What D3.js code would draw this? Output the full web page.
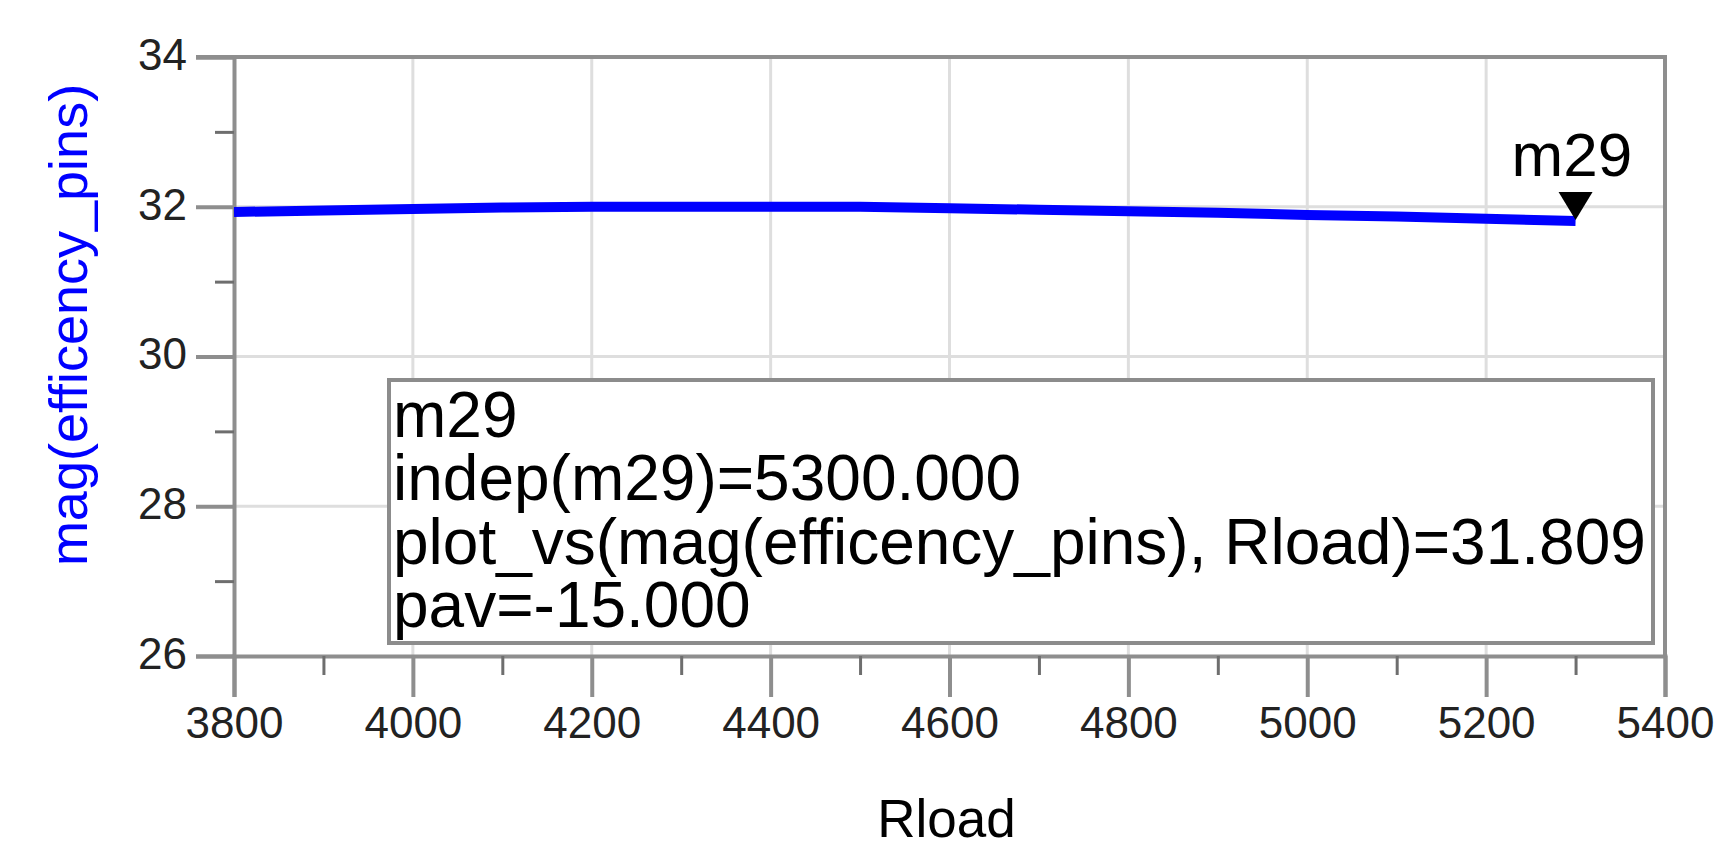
<!DOCTYPE html>
<html>
<head>
<meta charset="utf-8">
<script src="https://cdn.jsdelivr.net/npm/d3@7"></script>
<style>
  body { margin: 0; background: #fff; }
  svg { display: block; font-family: "Liberation Sans", Arial, sans-serif; }
</style>
</head>
<body>
<div id="chart"></div>
<script>
// Rload sweep (ohm) and mag(efficency_pins)
var rload = [3800, 3900, 4000, 4100, 4200, 4300, 4400, 4500, 4600, 4700, 4800, 4900, 5000, 5100, 5200, 5300];
var effPins = [31.93, 31.95, 31.97, 31.99, 32.00, 32.00, 32.00, 32.00, 31.98, 31.96, 31.94, 31.92, 31.89, 31.87, 31.84, 31.809];

var xTicks = [3800, 4000, 4200, 4400, 4600, 4800, 5000, 5200, 5400];
var xMinor = [3900, 4100, 4300, 4500, 4700, 4900, 5100, 5300];
var yTicks = [26, 28, 30, 32, 34];
var yMinor = [27, 29, 31, 33];

// marker m29
var markerName = "m29";
var markerX = 5300;
var markerY = 31.809;
var markerLines = ["m29", "indep(m29)=5300.000", "plot_vs(mag(efficency_pins), Rload)=31.809", "pav=-15.000"];

var width = 1730;
var height = 868;

var svg = d3.select("#chart")
  .append("svg")
  .attr("width", width)
  .attr("height", height);

var x = d3.scaleLinear().domain([3800, 5400]).range([234, 1665]);
var y = d3.scaleLinear().domain([26, 34]).range([656, 57]);

var axisGray = "#8e8e8e";

// grid
svg.append("g")
  .selectAll("line.vgrid")
  .data(xTicks.slice(1, -1))
  .enter().append("line")
    .attr("x1", function(d) { return x(d); })
    .attr("x2", function(d) { return x(d); })
    .attr("y1", y(34))
    .attr("y2", y(26))
    .attr("stroke", "#dedede")
    .attr("stroke-width", 3);

svg.append("g")
  .selectAll("line.hgrid")
  .data(yTicks.slice(1, -1))
  .enter().append("line")
    .attr("x1", x(3800))
    .attr("x2", x(5400))
    .attr("y1", function(d) { return y(d); })
    .attr("y2", function(d) { return y(d); })
    .attr("stroke", "#dedede")
    .attr("stroke-width", 3);

// axes
var xAxis = svg.append("g")
  .attr("transform", "translate(0," + y(26) + ")")
  .call(d3.axisBottom(x).tickValues(xTicks).tickSize(41).tickPadding(10).tickFormat(d3.format("d")));

var xAxisMinor = svg.append("g")
  .attr("transform", "translate(0," + y(26) + ")")
  .call(d3.axisBottom(x).tickValues(xMinor).tickSize(19).tickFormat(""));

var yAxis = svg.append("g")
  .attr("transform", "translate(" + x(3800) + ",0)")
  .call(d3.axisLeft(y).tickValues(yTicks).tickSize(38).tickPadding(9).tickFormat(d3.format("d")));

var yAxisMinor = svg.append("g")
  .attr("transform", "translate(" + x(3800) + ",0)")
  .call(d3.axisLeft(y).tickValues(yMinor).tickSize(19).tickFormat(""));

[xAxis, yAxis].forEach(function(a) {
  a.select(".domain").attr("stroke", axisGray).attr("stroke-width", 4);
  a.selectAll(".tick line").attr("stroke", axisGray).attr("stroke-width", 4);
  a.selectAll(".tick text")
    .attr("fill", "#222")
    .style("font-size", "44px")
    .style("font-family", "'Liberation Sans', Arial, sans-serif");
});
[xAxisMinor, yAxisMinor].forEach(function(a) {
  a.select(".domain").remove();
  a.selectAll(".tick line").attr("stroke", "#6e6e6e").attr("stroke-width", 3);
});
yAxis.selectAll(".tick text").attr("dy", "0.28em");

// top and right frame
svg.append("line")
  .attr("x1", x(3800) - 38).attr("x2", x(5400) + 2)
  .attr("y1", y(34)).attr("y2", y(34))
  .attr("stroke", axisGray).attr("stroke-width", 4);
svg.append("line")
  .attr("x1", x(5400)).attr("x2", x(5400))
  .attr("y1", y(34)).attr("y2", y(26))
  .attr("stroke", axisGray).attr("stroke-width", 4);

// data line
var line = d3.line()
  .x(function(d, i) { return x(rload[i]); })
  .y(function(d) { return y(d); });

svg.append("path")
  .datum(effPins)
  .attr("fill", "none")
  .attr("stroke", "#0000ff")
  .attr("stroke-width", 10)
  .attr("d", line);

// marker triangle + name
var mx = x(markerX), my = y(markerY);
svg.append("path")
  .attr("d", "M" + (mx - 17) + "," + (my - 29) + "L" + (mx + 17) + "," + (my - 29) + "L" + mx + "," + (my - 1) + "Z")
  .attr("fill", "#000");

svg.append("text")
  .attr("x", mx - 64)
  .attr("y", my - 45)
  .attr("fill", "#000")
  .style("font-size", "62px")
  .text(markerName);

// marker readout box
var box = svg.append("g");
box.append("rect")
  .attr("x", 389)
  .attr("y", 380)
  .attr("width", 1264)
  .attr("height", 263)
  .attr("fill", "#fff")
  .attr("stroke", "#8c8c8c")
  .attr("stroke-width", 4);

box.selectAll("text")
  .data(markerLines)
  .enter().append("text")
    .attr("x", 393)
    .attr("y", function(d, i) { return 437 + i * 63.3; })
    .attr("fill", "#000")
    .style("font-size", "64px")
    .text(function(d) { return d; });

// axis titles
svg.append("text")
  .attr("x", x(4600) - 3)
  .attr("y", 837)
  .attr("text-anchor", "middle")
  .attr("fill", "#000")
  .style("font-size", "53px")
  .text("Rload");

svg.append("text")
  .attr("transform", "translate(87,325) rotate(-90)")
  .attr("text-anchor", "middle")
  .attr("fill", "#0000ff")
  .style("font-size", "54px")
  .text("mag(efficency_pins)");
</script>
</body>
</html>
